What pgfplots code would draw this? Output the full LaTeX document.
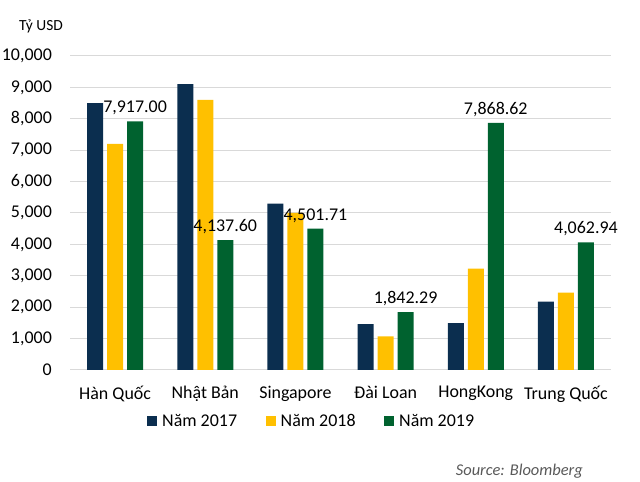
\documentclass[border=0pt]{standalone}
\usepackage{fontspec}
\setmainfont{Carlito}
\usepackage{pgfplots}
\pgfplotsset{compat=1.18}
\definecolor{c17}{HTML}{0B2E4F}
\definecolor{c18}{HTML}{FFC000}
\definecolor{c19}{HTML}{00622F}
\definecolor{gridc}{HTML}{D9D9D9}
\definecolor{srcc}{HTML}{595959}
\begin{document}
\fontsize{18}{21}\selectfont
\begin{tikzpicture}[x=1bp,y=1bp]
\useasboundingbox (0,0) rectangle (640,482);
\begin{axis}[
  at={(70bp,112bp)}, anchor=south west,
  scale only axis, width=541bp, height=314bp,
  xmin=-0.5, xmax=5.5, ymin=0, ymax=10000,
  enlargelimits=false,
  ybar=4bp, bar width=16bp,
  xtick={0,1,2,3,4,5},
  xticklabels={Hàn Quốc,Nhật Bản,Singapore,Đài Loan,HongKong,Trung Quốc},
  ytick={0,1000,...,10000},
  scaled y ticks=false,
  ymajorgrids, major grid style={gridc, line width=1bp},
  axis line style={draw=none},
  major tick length=0pt,
  tick label style={font=\fontsize{18}{21}\selectfont},
  yticklabel style={xshift=-12bp},
  xticklabel style={yshift=-10bp},
  /pgf/number format/1000 sep={,},
  /pgf/number format/assume math mode=true,
  legend columns=3,
  legend style={draw=none, fill=none, at={(0.1423,-0.1656)}, anchor=west,
    inner sep=0pt, column sep=5bp, font=\fontsize{18}{21}\selectfont,
    nodes={inner sep=0pt}},
  legend cell align=left,
]
\addplot+[fill=c17, draw=none, legend image code/.code={\fill[c17] (0bp,-4bp) rectangle (10bp,6bp);}]
  coordinates {(0,8500) (1,9100) (2,5300) (3,1460) (4,1490) (5,2175)};
\addlegendentry{\makebox[98.5bp][l]{Năm 2017}}
\addplot+[fill=c18, draw=none, legend image code/.code={\fill[c18] (0bp,-4bp) rectangle (10bp,6bp);}]
  coordinates {(0,7200) (1,8600) (2,5000) (3,1070) (4,3230) (5,2460)};
\addlegendentry{\makebox[98.5bp][l]{Năm 2018}}
\addplot+[fill=c19, draw=none, legend image code/.code={\fill[c19] (0bp,-4bp) rectangle (10bp,6bp);},
  nodes near coords={\pgfmathprintnumber[fixed,fixed zerofill,precision=2,1000 sep={,},assume math mode=true]{\pgfplotspointmeta}},
  nodes near coords style={font=\fontsize{18}{21}\selectfont, text=black, anchor=south}]
  coordinates {(0,7917.00) (1,4137.60) (2,4501.71) (3,1842.29) (4,7868.62) (5,4062.94)};
\addlegendentry{Năm 2019}
\end{axis}
\node[font=\fontsize{15.5}{18}\selectfont] at (41,456) {Tỷ USD};
\node[font=\fontsize{16.5}{19}\selectfont\itshape, text=srcc, anchor=base east, inner sep=0pt] at (583,6) {Source: Bloomberg};
\end{tikzpicture}
\end{document}
